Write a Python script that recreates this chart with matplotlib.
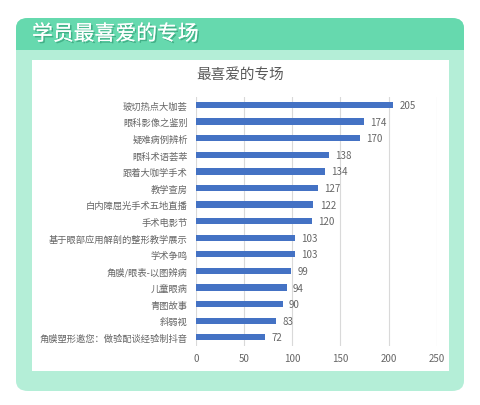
import matplotlib
matplotlib.use("Agg")
import matplotlib.pyplot as plt
from matplotlib.patches import FancyBboxPatch, Rectangle
import matplotlib.patheffects as pe

plt.rcParams['font.family'] = ['Noto Sans CJK SC', 'DejaVu Sans']

# data, top to bottom as in the picture
sessions = ['玻切热点大咖荟', '眼科影像之鉴别', '疑难病例辨析', '眼科术语荟萃', '跟着大咖学手术',
            '教学查房', '白内障屈光手术五地直播', '手术电影节', '基于眼部应用解剖的整形教学展示',
            '学术争鸣', '角膜/眼表-以图辨病', '儿童眼病', '青图故事', '斜弱视',
            '角膜塑形邀您：做验配谈经验制抖音']
votes = [205, 174, 170, 138, 134, 127, 122, 120, 103, 103, 99, 94, 90, 83, 72]
x_ticks = [0, 50, 100, 150, 200, 250]

W, H = 480, 406
fig = plt.figure(figsize=(W / 100, H / 100), dpi=100)
fig.patch.set_facecolor('white')

def fx(px):
    return px / W

def fy(py):
    return 1 - py / H

# green card with rounded corners
card = FancyBboxPatch((fx(16), fy(392)), fx(464) - fx(16), fy(19) - fy(392),
                      boxstyle="round,pad=0,rounding_size=0.025",
                      transform=fig.transFigure, facecolor='#b4eed7', edgecolor='none', zorder=-3)
fig.patches.append(card)
header = FancyBboxPatch((fx(16), fy(51)), fx(464) - fx(16), fy(19) - fy(51),
                        boxstyle="round,pad=0,rounding_size=0.025",
                        transform=fig.transFigure, facecolor='#66d9ae', edgecolor='none', zorder=-2)
fig.patches.append(header)
# square off header bottom corners
fig.patches.append(Rectangle((fx(16), fy(51)), fx(464) - fx(16), fy(38) - fy(51),
                             transform=fig.transFigure, facecolor='#66d9ae', edgecolor='none', zorder=-2))
# white chart area
fig.patches.append(Rectangle((fx(32), fy(372)), fx(449) - fx(32), fy(61) - fy(372),
                             transform=fig.transFigure, facecolor='white', edgecolor='none', zorder=-1))

fig.text(fx(32), fy(35), '学员最喜爱的专场', color='white', fontsize=15, va='center', ha='left',
         path_effects=[pe.withSimplePatchShadow(offset=(1.2, -1.2), shadow_rgbFace='#3aa57e', alpha=0.8),
                       pe.Normal()])
fig.text(fx(240), fy(75), '最喜爱的专场', color='#595959', fontsize=10.5, ha='center', va='center')

ax = fig.add_axes([fx(196), fy(346.6), fx(436.7) - fx(196), fy(97.7) - fy(346.6)])
ax.set_zorder(5)
ax.set_facecolor('white')
pos = list(range(len(sessions)))
ax.barh(pos, votes, height=0.38, color='#4472c4', zorder=3)
for p, v in zip(pos, votes):
    ax.text(v + 6.5, p, str(v), va='center', ha='left', fontsize=7, color='#666666')

ax.set_xlim(0, 250)
ax.set_ylim(len(sessions) - 0.5, -0.5)
ax.set_xticks(x_ticks)
ax.set_yticks(pos)
ax.set_yticklabels(sessions)
ax.tick_params(axis='both', length=0, labelcolor='#666666')
ax.tick_params(axis='x', pad=5, labelsize=7)
ax.tick_params(axis='y', pad=6, labelsize=6.7)
ax.grid(axis='x', color='#d9d9d9', linewidth=0.8, zorder=0)
for s in ax.spines.values():
    s.set_visible(False)

fig.savefig('out.png', dpi=100, facecolor='white')
